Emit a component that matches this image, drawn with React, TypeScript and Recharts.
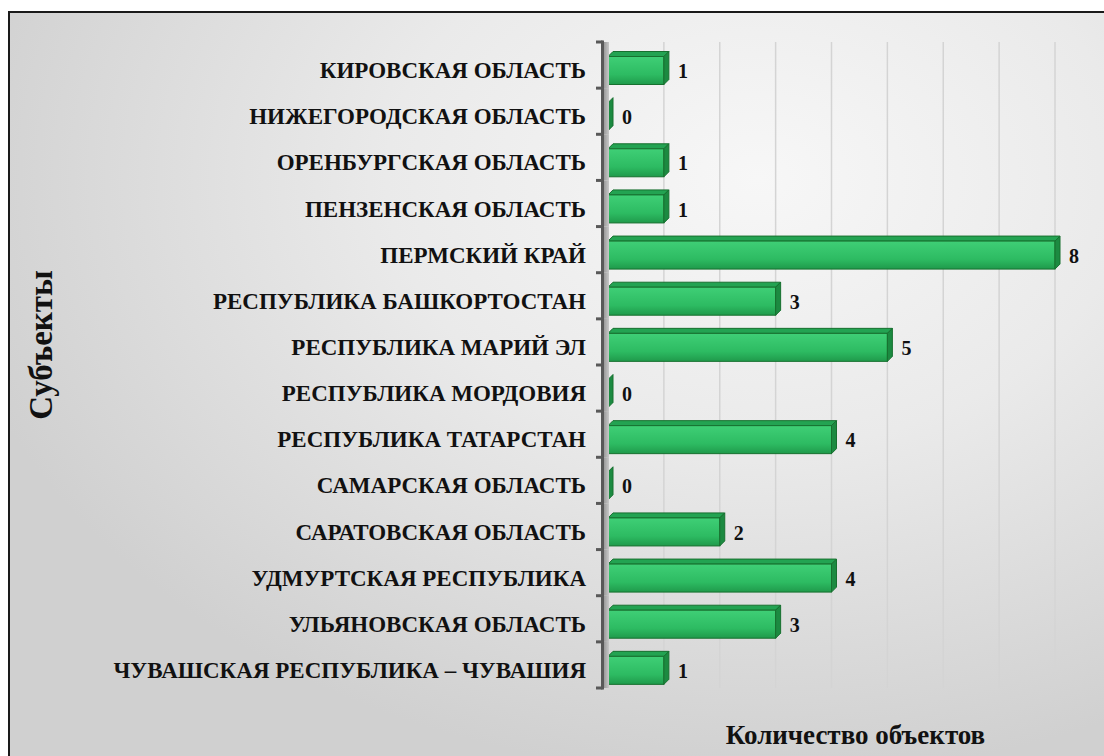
import { Bar, BarChart, CartesianGrid, LabelList, Label, XAxis, YAxis } from "recharts";

const regions = [
  "КИРОВСКАЯ ОБЛАСТЬ",
  "НИЖЕГОРОДСКАЯ ОБЛАСТЬ",
  "ОРЕНБУРГСКАЯ ОБЛАСТЬ",
  "ПЕНЗЕНСКАЯ ОБЛАСТЬ",
  "ПЕРМСКИЙ КРАЙ",
  "РЕСПУБЛИКА БАШКОРТОСТАН",
  "РЕСПУБЛИКА МАРИЙ ЭЛ",
  "РЕСПУБЛИКА МОРДОВИЯ",
  "РЕСПУБЛИКА ТАТАРСТАН",
  "САМАРСКАЯ ОБЛАСТЬ",
  "САРАТОВСКАЯ ОБЛАСТЬ",
  "УДМУРТСКАЯ РЕСПУБЛИКА",
  "УЛЬЯНОВСКАЯ ОБЛАСТЬ",
  "ЧУВАШСКАЯ РЕСПУБЛИКА – ЧУВАШИЯ",
];
const objectCounts = [1, 0, 1, 1, 8, 3, 5, 0, 4, 0, 2, 4, 3, 1];
const countTicks = [0, 1, 2, 3, 4, 5, 6, 7, 8];

const data = regions.map((name, i) => ({ name, value: objectCounts[i] }));

const FONT = "Liberation Serif, DejaVu Serif, serif";
const W = 1094;
const H = 743;
const PLOT_TOP = 29;
const PLOT_BOTTOM = 675;
const AXIS_X = 598;
const HALF_BAND = (PLOT_BOTTOM - PLOT_TOP) / regions.length / 2;
const D = 5; // 3d depth
const SHIFT = 3; // bars sit a bit low in their band

function Bar3D(props: any) {
  const { x, width, height } = props;
  const y = props.y + SHIFT;
  const w = Math.max(0, width || 0);
  const top = y + D;
  const h = height - D;
  return (
    <g>
      {w > 0 && (
        <>
          <polygon
            points={`${x},${top} ${x + D},${y} ${x + w + D},${y} ${x + w},${top}`}
            fill="#23a352"
            stroke="#17702f"
            strokeWidth={1}
          />
          <rect x={x} y={top} width={w} height={h} fill="url(#barFront)" stroke="#17702f" strokeWidth={1} />
        </>
      )}
      <polygon
        points={`${x + w},${top} ${x + w + D},${y} ${x + w + D},${y + h} ${x + w},${top + h}`}
        fill="#1c8a41"
        stroke="#17702f"
        strokeWidth={1}
      />
    </g>
  );
}

function RegionTick(props: any) {
  const { x, y, payload, index } = props;
  const last = index === regions.length - 1;
  const ax = AXIS_X - 5.5;
  return (
    <g>
      <rect x={AXIS_X - 4} y={y - HALF_BAND} width={5} height={HALF_BAND * 2} fill="url(#wall)" />
      <line x1={ax} x2={ax} y1={y - HALF_BAND - 1.5} y2={y + HALF_BAND + 1.5} stroke="#595959" strokeWidth={3} />
      <line x1={AXIS_X - 12} x2={ax} y1={y - HALF_BAND} y2={y - HALF_BAND} stroke="#595959" strokeWidth={3} />
      {last && (
        <line x1={AXIS_X - 12} x2={ax} y1={y + HALF_BAND} y2={y + HALF_BAND} stroke="#595959" strokeWidth={3} />
      )}
      <text
        x={x}
        y={y + 5}
        dy="0.35em"
        textAnchor="end"
        style={{ fontFamily: FONT, fontWeight: 700, fontSize: 23 }}
        fill="#111"
      >
        {payload.value}
      </text>
    </g>
  );
}

export default function App() {
  return (
    <div>
      <style>{"body{margin:0;overflow:hidden}"}</style>
      <div
        style={{
          position: "absolute",
          left: 8,
          top: 11,
          width: 1100,
          height: 750,
          borderLeft: "2px solid #1a1a1a",
          borderTop: "2px solid #1a1a1a",
          background:
            "radial-gradient(ellipse 75% 80% at 68% 22%, #f7f7f7 0%, #eaeaea 45%, #d0d0d0 100%)",
        }}
      >
        <BarChart
          width={W}
          height={H}
          data={data}
          layout="vertical"
          margin={{ top: PLOT_TOP, right: W - 1045, left: 0, bottom: 0 }}
          barCategoryGap={6.5}
        >
          <defs>
            <linearGradient id="barFront" x1="0" y1="0" x2="0" y2="1">
              <stop offset="0%" stopColor="#3fcf76" />
              <stop offset="65%" stopColor="#2dbb62" />
              <stop offset="100%" stopColor="#1f9a4b" />
            </linearGradient>
            <linearGradient id="wall" x1="0" y1="0" x2="1" y2="0">
              <stop offset="0%" stopColor="#9a9a9a" />
              <stop offset="100%" stopColor="#c8c8c8" />
            </linearGradient>
          </defs>
          <CartesianGrid horizontal={false} stroke="#d4d4d4" strokeWidth={1.5} />
          <XAxis
            type="number"
            domain={[0, 8]}
            ticks={countTicks}
            tick={() => <g />}
            axisLine={false}
            tickLine={false}
            height={H - PLOT_BOTTOM}
          >
            <Label
              content={({ viewBox }: any) => (
                <text
                  x={viewBox.x + viewBox.width / 2 + 24}
                  y={viewBox.y + viewBox.height - 12}
                  textAnchor="middle"
                  style={{ fontFamily: FONT, fontWeight: 700, fontSize: 27 }}
                  fill="#111"
                >
                  Количество объектов
                </text>
              )}
            />
          </XAxis>
          <YAxis
            type="category"
            dataKey="name"
            width={AXIS_X}
            axisLine={false}
            tickLine={false}
            tickSize={8}
            tickMargin={14}
            tick={<RegionTick />}
            interval={0}
          >
            <Label
              content={({ viewBox }: any) => {
                const cx = 30;
                const cy = viewBox.y + viewBox.height / 2 - 20;
                return (
                  <text
                    x={cx}
                    y={cy}
                    dy="0.35em"
                    textAnchor="middle"
                    transform={`rotate(-90, ${cx}, ${cy})`}
                    style={{ fontFamily: FONT, fontWeight: 700, fontSize: 33 }}
                    fill="#111"
                  >
                    Субъекты
                  </text>
                );
              }}
            />
          </YAxis>
          <Bar dataKey="value" shape={<Bar3D />} isAnimationActive={false}>
            <LabelList
              dataKey="value"
              position="right"
              offset={14}
              dy={SHIFT + 3}
              style={{ fontFamily: FONT, fontWeight: 700, fontSize: 20 }}
              fill="#111"
            />
          </Bar>
        </BarChart>
      </div>
    </div>
  );
}
